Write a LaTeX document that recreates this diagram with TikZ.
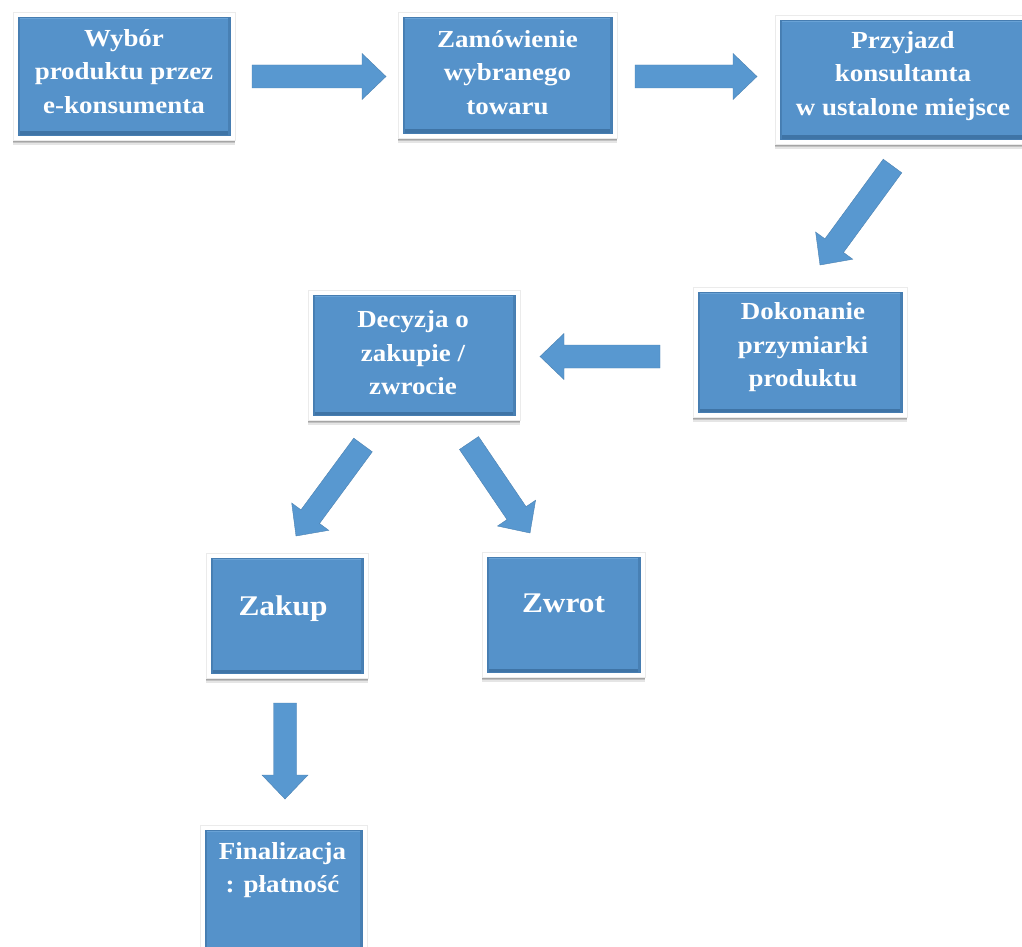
\documentclass[tikz,border=0pt]{standalone}
\usepackage{fontspec}
\setmainfont{Liberation Serif}[FakeStretch=1.1]
\usetikzlibrary{calc,shadows}
\definecolor{boxblue}{HTML}{5592CA}
\definecolor{boxdark}{HTML}{3F74A6}
\definecolor{boxlight}{HTML}{6AA3D6}
\definecolor{arrowblue}{HTML}{5898D0}
\tikzset{
  outerbox/.style={rectangle, inner sep=0pt, outer sep=0pt, fill=white, draw=black!8, line width=0.5pt,
    drop shadow={shadow xshift=0pt, shadow yshift=-5pt, opacity=0.10, fill=black},
    drop shadow={shadow xshift=0pt, shadow yshift=-3pt, opacity=0.15, fill=black},
    drop shadow={shadow xshift=0pt, shadow yshift=-1.5pt, opacity=0.15, fill=black}},
  innerbox/.style={rectangle, inner sep=0pt, outer sep=0pt, fill=boxblue, draw=boxdark!70!boxblue, line width=0.8pt,
    path picture={
      \fill[boxdark] (path picture bounding box.south west) rectangle ([yshift=3.5pt]path picture bounding box.south east);
      \fill[boxlight] ([yshift=-2pt]path picture bounding box.north west) rectangle (path picture bounding box.north east);
      \fill[boxdark!60!boxblue] (path picture bounding box.south west) rectangle ([xshift=2pt]path picture bounding box.north west);
      \fill[boxdark!60!boxblue] ([xshift=-2pt]path picture bounding box.south east) rectangle (path picture bounding box.north east);
    }},
  lbl/.style={text=white, align=center, inner sep=0pt, font=\bfseries\fontsize{24.5}{33.5}\selectfont},
  biglbl/.style={text=white, inner sep=0pt, anchor=base, font=\bfseries\fontsize{28.5}{34}\selectfont},
  blockarrow/.style={fill=arrowblue, draw=arrowblue!85!black, line width=0.4pt, line join=miter,
    to path={
      ($(\tikztostart)!11.5pt!90:(\tikztotarget)$)
      -- ($(\tikztotarget)!24pt!(\tikztostart)!11.5pt!90:(\tikztotarget)$)
      -- ($(\tikztotarget)!24pt!(\tikztostart)!23pt!90:(\tikztotarget)$)
      -- (\tikztotarget)
      -- ($(\tikztotarget)!24pt!(\tikztostart)!23pt!-90:(\tikztotarget)$)
      -- ($(\tikztotarget)!24pt!(\tikztostart)!11.5pt!-90:(\tikztotarget)$)
      -- ($(\tikztostart)!11.5pt!-90:(\tikztotarget)$)
      -- cycle}}
}
\begin{document}
\begin{tikzpicture}[x=1pt,y=-1pt]
\useasboundingbox (0,0) rectangle (1022,947);
\clip (0,0) rectangle (1022,947);
\fill[white] (0,0) rectangle (1022,947);

% boxes
\node[outerbox, minimum width=222pt, minimum height=128pt] (b1) at (124,76) {};
\node[innerbox, minimum width=212pt, minimum height=118pt] (b1i) at (b1.center) {};
\node[outerbox, minimum width=219pt, minimum height=126pt] (b2) at (507.5,75) {};
\node[innerbox, minimum width=209pt, minimum height=116pt] (b2i) at (b2.center) {};
\node[outerbox, minimum width=255pt, minimum height=129pt] (b3) at (902.5,79.5) {};
\node[innerbox, minimum width=245pt, minimum height=119pt] (b3i) at (b3.center) {};
\node[outerbox, minimum width=214pt, minimum height=130pt] (b4) at (800,352) {};
\node[innerbox, minimum width=204pt, minimum height=120pt] (b4i) at (b4.center) {};
\node[outerbox, minimum width=212pt, minimum height=130pt] (b5) at (414,355) {};
\node[innerbox, minimum width=202pt, minimum height=120pt] (b5i) at (b5.center) {};
\node[outerbox, minimum width=162pt, minimum height=125pt] (b6) at (287,615.5) {};
\node[innerbox, minimum width=152pt, minimum height=115pt] (b6i) at (b6.center) {};
\node[outerbox, minimum width=163pt, minimum height=125pt] (b7) at (563.5,614.5) {};
\node[innerbox, minimum width=153pt, minimum height=115pt] (b7i) at (b7.center) {};
\node[outerbox, minimum width=167pt, minimum height=150pt] (b8) at (283.5,900) {};
\node[innerbox, minimum width=157pt, minimum height=140pt] (b8i) at (b8.center) {};

% texts
\node[lbl] (t1) at (124,73) {\strut Wyb\'or\\produktu przez\\e-konsumenta\strut};
\node[lbl] (t2) at (507.5,74.3) {\strut Zam\'owienie\\wybranego\\towaru\strut};
\node[lbl] (t3) at (903,75.3) {\strut Przyjazd\\konsultanta\\w ustalone miejsce\strut};
\node[lbl] (t4) at (803,346.3) {\strut Dokonanie\\przymiarki\\produktu\strut};
\node[lbl] (t5) at (413,354.5) {\strut Decyzja o\\zakupie /\\zwrocie\strut};
\node[biglbl] (t6) at (283,615.5) {Zakup};
\node[biglbl] (t7) at (563.5,612.5) {Zwrot};
\node[lbl] (t8) at (282.5,869.5) {\strut Finalizacja\\: płatność\strut};

% arrow end points
\coordinate (a1s) at (252,76.5);  \coordinate (a1e) at (386,76.5);
\coordinate (a2s) at (635,76.5);  \coordinate (a2e) at (757,76.5);
\coordinate (a3s) at (892.5,166); \coordinate (a3e) at (820,265);
\coordinate (a4s) at (660,356.5); \coordinate (a4e) at (540,356.5);
\coordinate (a5s) at (363,445);   \coordinate (a5e) at (296,536);
\coordinate (a6s) at (469,443);   \coordinate (a6e) at (530,533);
\coordinate (a7s) at (285,703);   \coordinate (a7e) at (285,799);

\draw[blockarrow] (a1s) to (a1e);
\draw[blockarrow] (a2s) to (a2e);
\draw[blockarrow] (a3s) to (a3e);
\draw[blockarrow] (a4s) to (a4e);
\draw[blockarrow] (a5s) to (a5e);
\draw[blockarrow] (a6s) to (a6e);
\draw[blockarrow] (a7s) to (a7e);
\end{tikzpicture}
\end{document}
